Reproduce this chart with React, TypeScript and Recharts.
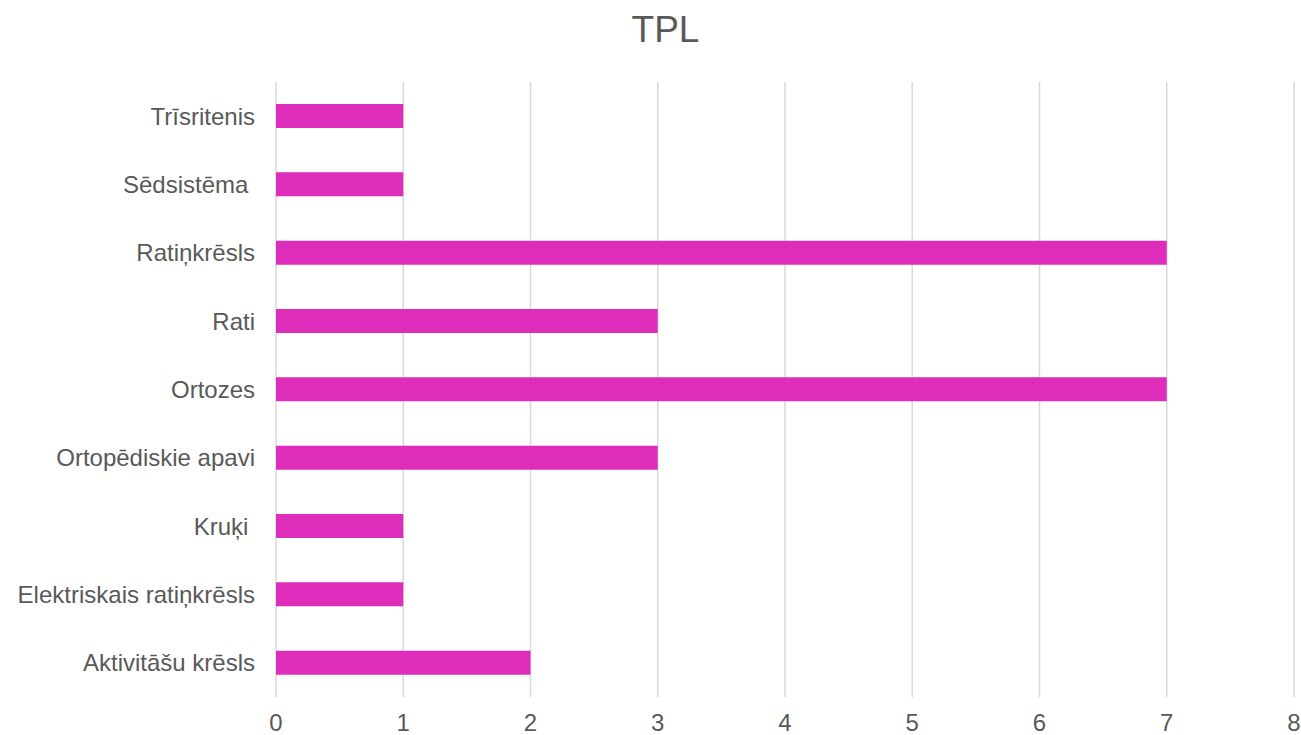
import { BarChart, Bar, XAxis, YAxis, CartesianGrid } from "recharts";

const categories = [
  "Trīsritenis",
  "Sēdsistēma\u00a0",
  "Ratiņkrēsls",
  "Rati",
  "Ortozes",
  "Ortopēdiskie apavi",
  "Kruķi\u00a0",
  "Elektriskais ratiņkrēsls",
  "Aktivitāšu krēsls",
];
const counts = [1, 1, 7, 3, 7, 3, 1, 1, 2];
const xTicks = [0, 1, 2, 3, 4, 5, 6, 7, 8];

const data = categories.map((name, i) => ({ name, value: counts[i] }));

const font = "'Liberation Sans', Arial, sans-serif";
const textColor = "#595959";

export default function App() {
  return (
    <div style={{ position: "absolute", left: 0, top: 0, width: 1301, height: 735, background: "#fff", fontFamily: font }}>
      <div
        style={{
          position: "absolute",
          top: 9,
          left: 0,
          width: 1331,
          textAlign: "center",
          fontSize: 37,
          color: textColor,
        }}
      >
        TPL
      </div>
      <BarChart
        width={1301}
        height={735}
        data={data}
        layout='vertical'
        margin={{ top: 82, right: 7, bottom: 0, left: 0 }}
        barCategoryGap={0}
      >
        <CartesianGrid horizontal={false} stroke='#d9d9d9' strokeWidth={1.5} />
        <XAxis
          type='number'
          domain={[0, 8]}
          ticks={xTicks}
          axisLine={false}
          tickLine={false}
          tickSize={0}
          tickMargin={17}
          height={38}
          tick={{ fill: textColor, fontSize: 24, fontFamily: font }}
        />
        <YAxis
          type='category'
          dataKey='name'
          width={276}
          axisLine={false}
          tickLine={false}
          tickSize={0}
          tickMargin={21}
          interval={0}
          tick={{ fill: textColor, fontSize: 24, fontFamily: font }}
        />
        <Bar dataKey='value' fill='#DE2DBB' barSize={24} isAnimationActive={false} />
      </BarChart>
    </div>
  );
}
